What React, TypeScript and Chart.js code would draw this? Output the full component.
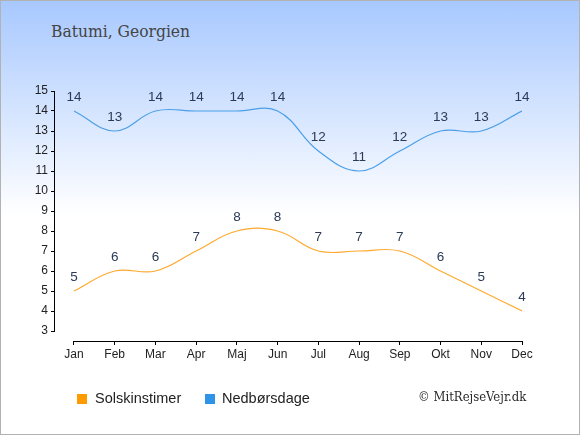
import { useEffect, useRef } from 'react'
import { Chart, registerables } from 'chart.js'

Chart.register(...registerables)

const months = ['Jan', 'Feb', 'Mar', 'Apr', 'Maj', 'Jun', 'Jul', 'Aug', 'Sep', 'Okt', 'Nov', 'Dec']
const sunHours = [5, 6, 6, 7, 8, 8, 7, 7, 7, 6, 5, 4]
const rainDays = [14, 13, 14, 14, 14, 14, 12, 11, 12, 13, 13, 14]
const yTicks = [3, 4, 5, 6, 7, 8, 9, 10, 11, 12, 13, 14, 15]

const SANS = "'Liberation Sans', Arial, sans-serif"
const SERIF = "'DejaVu Serif Condensed', 'DejaVu Serif', serif"

// axis lines that stop at the first/last tick, plus value labels over the points
const axesAndLabels = {
  id: 'axesAndLabels',
  afterDraw(chart: Chart) {
    const ctx = chart.ctx
    const x = chart.scales.x
    const y = chart.scales.y
    const area = chart.chartArea
    ctx.save()
    ctx.strokeStyle = '#000'
    ctx.lineWidth = 1
    ctx.beginPath()
    const by = Math.round(area.bottom) + 0.5
    ctx.moveTo(x.getPixelForValue(0), by)
    ctx.lineTo(x.getPixelForValue(months.length - 1), by)
    const lx = Math.round(area.left) - 0.5
    ctx.moveTo(lx, y.getPixelForValue(yTicks[0]))
    ctx.lineTo(lx, y.getPixelForValue(yTicks[yTicks.length - 1]))
    ctx.stroke()

    ctx.fillStyle = '#2b3a55'
    ctx.font = `13.5px ${SANS}`
    ctx.textAlign = 'center'
    ctx.textBaseline = 'middle'
    chart.data.datasets.forEach((ds, i) => {
      const meta = chart.getDatasetMeta(i)
      meta.data.forEach((pt, j) => {
        const v = (ds.data[j] as { y: number }).y
        ctx.fillText(String(v), pt.x, pt.y - 14)
      })
    })
    ctx.restore()
  },
}

export default function App() {
  const canvasRef = useRef<HTMLCanvasElement>(null)
  const chartRef = useRef<Chart | null>(null)

  useEffect(() => {
    if (!canvasRef.current) return
    if (chartRef.current) chartRef.current.destroy()

    chartRef.current = new Chart(canvasRef.current, {
      type: 'line',
      data: {
        datasets: [
          {
            label: 'Solskinstimer',
            data: sunHours.map((v, i) => ({ x: i, y: v })),
            borderColor: '#ffa92e',
            borderWidth: 1.2,
            pointRadius: 0,
            tension: 0.4,
          },
          {
            label: 'Nedbørsdage',
            data: rainDays.map((v, i) => ({ x: i, y: v })),
            borderColor: '#4a9fea',
            borderWidth: 1.2,
            pointRadius: 0,
            tension: 0.4,
          },
        ],
      },
      options: {
        responsive: false,
        animation: false,
        devicePixelRatio: 1,
        layout: { padding: { left: 0, top: 91, right: 58, bottom: 69 } },
        scales: {
          x: {
            type: 'linear',
            min: -0.466,
            max: 11,
            afterBuildTicks: (scale) => {
              scale.ticks = months.map((_, i) => ({ value: i }))
            },
            afterFit: (scale) => {
              scale.height = 25
            },
            ticks: {
              autoSkip: false,
              maxRotation: 0,
              padding: 2,
              color: '#222',
              font: { family: SANS, size: 12 },
              callback: (v) => months[Number(v)] ?? '',
            },
            grid: { drawOnChartArea: false, tickLength: 4, color: '#000' },
            border: { display: false },
          },
          y: {
            type: 'linear',
            min: 2.5,
            max: 15,
            afterBuildTicks: (scale) => {
              scale.ticks = yTicks.map((v) => ({ value: v }))
            },
            afterFit: (scale) => {
              scale.width = 55
            },
            ticks: {
              padding: 3,
              color: '#222',
              font: { family: SANS, size: 12 },
            },
            grid: { drawOnChartArea: false, tickLength: 4, color: '#000' },
            border: { display: false },
          },
        },
        plugins: {
          legend: { display: false },
          tooltip: { enabled: false },
        },
      },
      plugins: [axesAndLabels],
    })

    return () => {
      if (chartRef.current) {
        chartRef.current.destroy()
        chartRef.current = null
      }
    }
  }, [])

  const legendText = {
    position: 'absolute' as const,
    top: 389,
    fontFamily: SANS,
    fontSize: '14.5px',
    lineHeight: '18px',
    color: '#222',
    whiteSpace: 'nowrap' as const,
  }
  const square = (left: number, color: string) => ({
    position: 'absolute' as const,
    left,
    top: 394,
    width: 10,
    height: 10,
    background: color,
  })

  return (
    <div
      style={{
        position: 'fixed',
        left: 0,
        top: 0,
        width: 580,
        height: 435,
        background: 'linear-gradient(to bottom, #a7c8ff 0px, #ffffff 215px, #ffffff 435px)',
        boxShadow: 'inset 0 0 0 1px #b2b2b2',
        overflow: 'hidden',
      }}
    >
      <div
        style={{
          position: 'absolute',
          left: 51,
          top: 20,
          fontFamily: SERIF,
          fontStretch: 'condensed',
          fontSize: '17.3px',
          lineHeight: '22px',
          color: '#444',
          whiteSpace: 'nowrap',
        }}
      >
        Batumi, Georgien
      </div>
      <canvas
        ref={canvasRef}
        width={580}
        height={435}
        style={{ position: 'absolute', left: 0, top: 0, width: 580, height: 435 }}
      />
      <div style={square(77, '#ff9a00')} />
      <div style={{ ...legendText, left: 95 }}>Solskinstimer</div>
      <div style={square(205, '#2f93e8')} />
      <div style={{ ...legendText, left: 222 }}>Nedbørsdage</div>
      <div
        style={{
          position: 'absolute',
          left: 418,
          top: 388,
          fontFamily: SERIF,
          fontStretch: 'condensed',
          fontSize: '13px',
          lineHeight: '18px',
          color: '#2a2a2a',
          whiteSpace: 'nowrap',
        }}
      >
        © MitRejseVejr.dk
      </div>
    </div>
  )
}
